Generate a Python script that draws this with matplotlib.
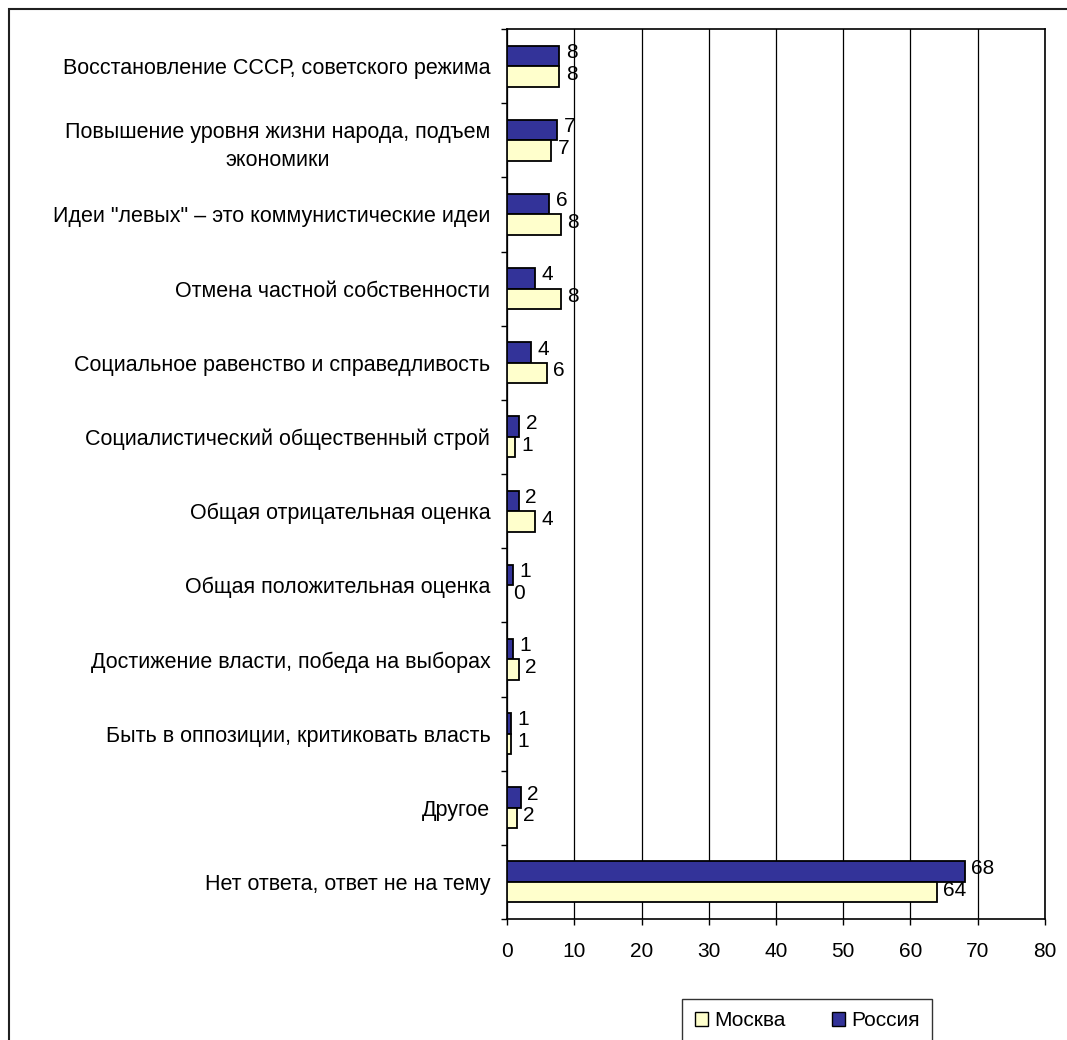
import numpy as np
import matplotlib
matplotlib.use("Agg")
import matplotlib.pyplot as plt
from matplotlib.patches import Patch, Rectangle

plt.rcParams['font.family'] = ['Liberation Sans', 'DejaVu Sans']

categories = [
    "Восстановление СССР, советского режима",
    "Повышение уровня жизни народа, подъем\nэкономики",
    'Идеи "левых" – это коммунистические идеи',
    "Отмена частной собственности",
    "Социальное равенство и справедливость",
    "Социалистический общественный строй",
    "Общая отрицательная оценка",
    "Общая положительная оценка",
    "Достижение власти, победа на выборах",
    "Быть в оппозиции, критиковать власть",
    "Другое",
    "Нет ответа, ответ не на тему",
]
russia = [7.8, 7.5, 6.3, 4.2, 3.6, 1.85, 1.8, 0.95, 0.95, 0.6, 2.1, 68.05]
moscow = [7.8, 6.6, 8.05, 8.05, 5.9, 1.2, 4.2, 0.0, 1.8, 0.6, 1.5, 63.9]
russia_labels = [8, 7, 6, 4, 4, 2, 2, 1, 1, 1, 2, 68]
moscow_labels = [8, 7, 8, 8, 6, 1, 4, 0, 2, 1, 2, 64]
x_ticks = [0, 10, 20, 30, 40, 50, 60, 70, 80]

W, H = 1067, 1040
fig = plt.figure(figsize=(W / 100, H / 100), dpi=100)
fig.patch.set_facecolor('white')

# outer frame (only top and left visible in the reference)
fig.patches.append(Rectangle((9 / W, -0.1), 1.2, 1 - 9 / H + 0.1, transform=fig.transFigure,
                             fill=False, edgecolor='#202020', linewidth=1.5))

left, right, top, bottom = 507 / W, 1045 / W, 1 - 29 / H, 1 - 919 / H
ax = fig.add_axes([left, bottom, right - left, top - bottom])

n = len(categories)
y = np.arange(n)
h = 0.277
fs = 15
ax.barh(y - h / 2, russia, height=h, color='#333399', edgecolor='black', linewidth=1.3,
        label='Россия', zorder=3)
ax.barh(y + h / 2, moscow, height=h, color='#FFFFCC', edgecolor='black', linewidth=1.3,
        label='Москва', zorder=3)

for yi, v, lab in zip(y, russia, russia_labels):
    ax.annotate(str(lab), (v, yi - h / 2), xytext=(4.5, 2.5), textcoords='offset points',
                ha='left', va='center', fontsize=fs, zorder=4)
for yi, v, lab in zip(y, moscow, moscow_labels):
    ax.annotate(str(lab), (v, yi + h / 2), xytext=(4.5, 1.5), textcoords='offset points',
                ha='left', va='center', fontsize=fs, zorder=4)

ax.set_xlim(0, 80)
ax.set_ylim(n - 0.5, -0.5)
ax.set_xticks(x_ticks)
ax.set_xticklabels([str(t) for t in x_ticks], fontsize=fs)
ax.tick_params(axis='x', direction='out', length=4.3, width=1, pad=12, colors='black')
ax.xaxis.grid(True, color='black', linewidth=0.9, zorder=0)
ax.set_axisbelow(True)

ax.set_yticks(y)
ax.set_yticklabels(categories, fontsize=15.5, multialignment='center')
for t in ax.get_yticklabels():
    t.set_linespacing(1.45)
ax.tick_params(axis='y', which='major', length=0, pad=12)
ax.set_yticks(np.arange(-0.5, n, 1.0), minor=True)
ax.tick_params(axis='y', which='minor', direction='out', length=4.3, width=1)

for s in ax.spines.values():
    s.set_color('black')
    s.set_linewidth(1.2)

handles = [Patch(facecolor='#FFFFCC', edgecolor='black', label='Москва'),
           Patch(facecolor='#333399', edgecolor='black', label='Россия')]
leg = fig.legend(handles=handles, loc='upper left', bbox_to_anchor=(682 / W, 1 - 999 / H),
                 ncol=2, fontsize=fs, frameon=True, fancybox=False, edgecolor='black',
                 handlelength=0.65, handleheight=0.65, handletextpad=0.3, columnspacing=2.2,
                 borderpad=0.6, borderaxespad=0)
leg.get_frame().set_linewidth(1.0)

fig.savefig('out.png', dpi=100, facecolor='white')
